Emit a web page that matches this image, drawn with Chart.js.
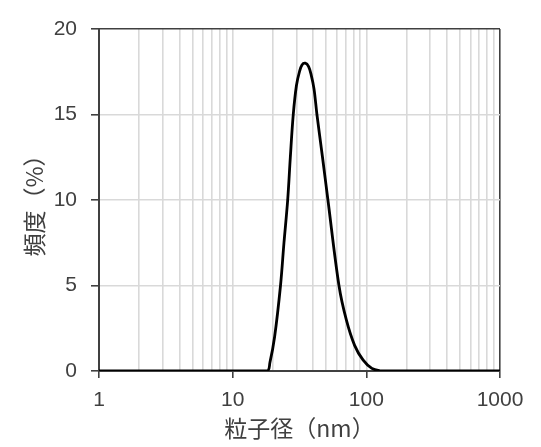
<!DOCTYPE html>
<html>
<head>
<meta charset="utf-8">
<script src="https://cdn.jsdelivr.net/npm/chart.js@4/dist/chart.umd.min.js"></script>
<style>
  html, body { margin: 0; padding: 0; background: #fff; }
  #wrap { width: 541px; height: 447px; }
</style>
</head>
<body>
<div id="wrap"><canvas id="sizeChart"></canvas></div>
<script>
// particle size (nm) and frequency (%)
const sizes = [1, 18, 19, 20.6, 22.8, 24.2, 25.8, 27.0, 28.4, 30.0, 31.6, 33.0, 34.9, 37.0, 38.7, 40.6, 42.7, 47.0, 51.6, 62.4, 70.8, 81.7, 94.4, 110, 126, 150, 1000];
const freqs = [0, 0, 0.5, 2, 5, 7.5, 10, 12.5, 15, 16.7, 17.5, 17.9, 18, 17.8, 17.3, 16.5, 15, 12.5, 10, 5, 3, 1.5, 0.65, 0.15, 0.02, 0, 0];

const xGridValues = [1, 2, 3, 4, 5, 6, 7, 8, 9, 10, 20, 30, 40, 50, 60, 70, 80, 90, 100, 200, 300, 400, 500, 600, 700, 800, 900, 1000];
const xLabelValues = [1, 10, 100, 1000];
const yTicks = [0, 5, 10, 15, 20];

const axisColor = '#404040';
const gridColor = '#d9d9d9';
const textColor = '#404040';
const tickFont = { family: '"Liberation Sans", Arial, sans-serif', size: 21 };
const titleFont = { family: '"Noto Sans CJK JP", sans-serif', size: 23 };

const points = sizes.map((s, i) => ({ x: s, y: freqs[i] }));

const ctx = document.getElementById('sizeChart').getContext('2d');
const sizeChart = new Chart(ctx, {
  type: 'line',
  data: {
    datasets: [{
      data: points,
      borderColor: '#000',
      borderWidth: 2.8,
      pointRadius: 0,
      fill: false,
      tension: 0.35
    }]
  },
  options: {
    responsive: true,
    maintainAspectRatio: false,
    animation: false,
    layout: { padding: { left: 0, right: 41, top: 29, bottom: 0 } },
    plugins: {
      legend: { display: false },
      tooltip: { enabled: false }
    },
    scales: {
      x: {
        type: 'logarithmic',
        min: 1,
        max: 1000,
        afterBuildTicks: (scale) => {
          scale.ticks = xGridValues.map(v => ({ value: v }));
        },
        afterFit: (scale) => { scale.height = 76; },
        ticks: {
          autoSkip: false,
          maxRotation: 0,
          padding: 10,
          color: textColor,
          font: tickFont,
          callback: (value) => xLabelValues.includes(value) ? String(value) : ''
        },
        grid: {
          lineWidth: 1.6,
          tickLength: 7,
          color: (c) => (c.tick && c.tick.value === 1000) ? axisColor : gridColor,
          tickColor: (c) => (c.tick && xLabelValues.includes(c.tick.value)) ? axisColor : 'rgba(0,0,0,0)',
          tickWidth: 1.6
        },
        border: { color: axisColor, width: 2 },
        title: {
          display: true,
          text: '粒子径（nm）',
          color: textColor,
          font: titleFont,
          padding: { top: 0, bottom: 5 }
        }
      },
      y: {
        min: 0,
        max: 20,
        afterBuildTicks: (scale) => {
          scale.ticks = yTicks.map(v => ({ value: v }));
        },
        afterFit: (scale) => { scale.width = 99; },
        ticks: {
          padding: 14,
          color: textColor,
          font: tickFont
        },
        grid: {
          lineWidth: 1.6,
          tickLength: 8,
          color: (c) => (c.tick && c.tick.value === 20) ? axisColor : gridColor,
          tickColor: axisColor,
          tickWidth: 1.6
        },
        border: { color: axisColor, width: 2 },
        title: {
          display: true,
          text: '頻度（%）',
          color: textColor,
          font: titleFont,
          padding: { top: 20, bottom: 0 }
        }
      }
    }
  }
});
</script>
</body>
</html>
